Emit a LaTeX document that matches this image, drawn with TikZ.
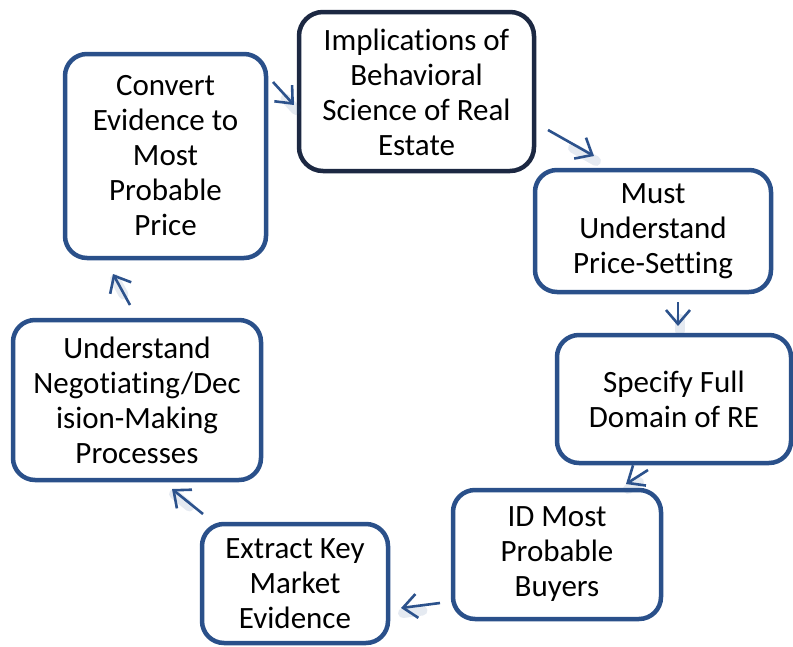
\documentclass[tikz,border=0pt]{standalone}
\usepackage{fontspec}
\setmainfont[Ligatures={NoCommon}]{Carlito}
\usetikzlibrary{arrows.meta,calc}
\definecolor{boxblue}{RGB}{42,80,138}
\definecolor{boxdark}{RGB}{28,40,66}
\definecolor{arrblue}{RGB}{44,82,140}
\begin{document}
\begin{tikzpicture}[x=1pt,y=-1pt,
  stepbox/.style={draw=boxblue,line width=4.5pt,rounded corners=22pt,fill=white},
  topbox/.style={draw=boxdark,line width=4.5pt,rounded corners=24pt,fill=white},
  lbl/.style={align=center,font=\fontsize{31}{35}\selectfont,text=black},
  flow/.style={draw=arrblue,line width=2.6pt,-{Straight Barb[length=14pt,width=24pt,line width=2.6pt]}},
  shade/.style={draw=arrblue,line width=10pt,opacity=0.12,line cap=round}]
\useasboundingbox (0,0) rectangle (793,646);
% boxes
\draw[topbox] (299,12) rectangle (534,171);
\node[lbl] (b1) at (416.5,92) {Implications of\\Behavioral\\Science of Real\\Estate};
\draw[stepbox] (535,170) rectangle (771,292);
\node[lbl] (b2) at (653,231) {Must\\Understand\\Price-Setting};
\draw[stepbox] (557,335) rectangle (791,463);
\node[lbl] (b3) at (674,399) {Specify Full\\Domain of RE};
\draw[stepbox] (453,490) rectangle (661,619);
\node[lbl] (b4) at (557,554) {ID Most\\Probable\\Buyers};
\draw[stepbox] (202,524) rectangle (388,643);
\node[lbl] (b5) at (295,584) {Extract Key\\Market\\Evidence};
\draw[stepbox] (13,320) rectangle (261,480);
\node[lbl] (b6) at (137,400) {Understand\\Negotiating/Dec\\ision-Making\\Processes};
\draw[stepbox] (65,54) rectangle (266,258);
\node[lbl] (b7) at (165.5,156) {Convert\\Evidence to\\Most\\Probable\\Price};
% connector end points
\coordinate (a1s) at (273,82);  \coordinate (a1e) at (294,105);
\coordinate (a2s) at (548,130); \coordinate (a2e) at (594,156);
\coordinate (a3s) at (678,302); \coordinate (a3e) at (678,326);
\coordinate (a4s) at (648,470); \coordinate (a4e) at (626,484);
\coordinate (a5s) at (440,603); \coordinate (a5e) at (401,608);
\coordinate (a6s) at (203,514); \coordinate (a6e) at (172,489);
\coordinate (a7s) at (130,305); \coordinate (a7e) at (113,274);
% soft shadows
\foreach \s/\e in {a1s/a1e,a2s/a2e,a3s/a3e,a4s/a4e,a5s/a5e,a6s/a6e,a7s/a7e}{
  \draw[shade] ($(\s)!0.5!(\e)+(2,5)$) -- ($(\e)+(2,5)$);
}
% connectors
\draw[flow] (a1s) -- (a1e);
\draw[flow] (a2s) -- (a2e);
\draw[flow] (a3s) -- (a3e);
\draw[flow] (a4s) -- (a4e);
\draw[flow] (a5s) -- (a5e);
\draw[flow] (a6s) -- (a6e);
\draw[flow] (a7s) -- (a7e);
\end{tikzpicture}
\end{document}
